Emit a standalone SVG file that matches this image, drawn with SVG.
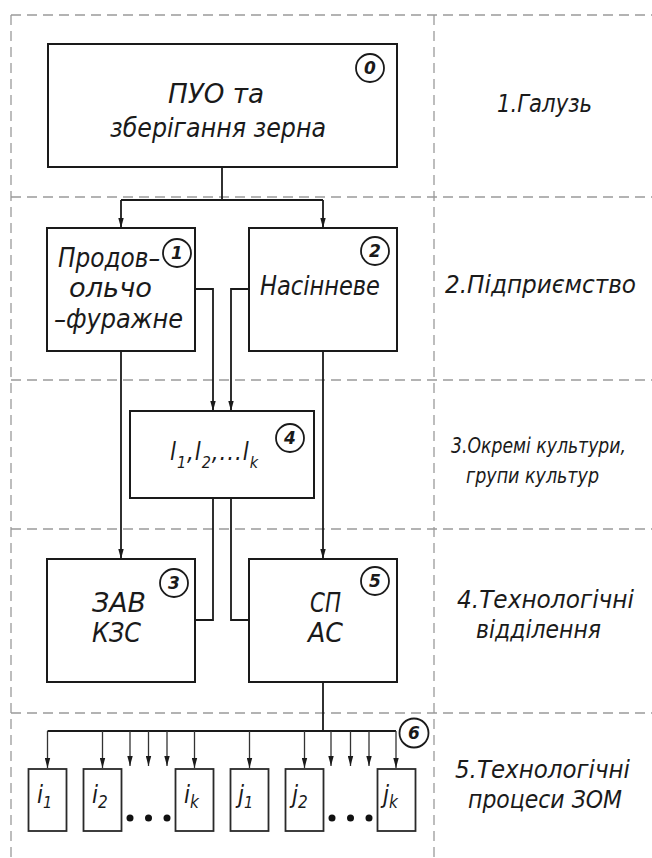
<svg xmlns="http://www.w3.org/2000/svg" width="652" height="858" viewBox="0 0 652 858">
<style>
.grid{stroke:#9a9a9a;stroke-width:1.3;stroke-dasharray:10 6;fill:none}
.box{fill:#fff;stroke:#1a1a1a;stroke-width:2}
.sbox{fill:#fff;stroke:#2a2a2a;stroke-width:1.8}
.ln{fill:none;stroke:#1a1a1a;stroke-width:1.8}
.thin{fill:none;stroke:#333;stroke-width:1.3}
.t{font-family:"DejaVu Sans Condensed","DejaVu Sans",sans-serif;font-style:italic;font-size:26px;fill:#1a1a1a}
.lv{font-family:"DejaVu Sans Condensed","DejaVu Sans",sans-serif;font-style:italic;font-size:25px;fill:#1a1a1a}
.lv2{font-family:"DejaVu Sans Condensed","DejaVu Sans",sans-serif;font-style:italic;font-size:22px;fill:#1a1a1a}
.num circle{fill:#fff;stroke:#1a1a1a;stroke-width:1.8}
.num text{font-family:"DejaVu Sans","Liberation Sans",sans-serif;font-weight:bold;font-style:italic;font-size:17px;fill:#1a1a1a;text-anchor:middle}
.s{font-family:"DejaVu Sans Condensed","DejaVu Sans",sans-serif;font-style:italic;fill:#1a1a1a}
</style>
<defs>
<marker id="ar" markerUnits="userSpaceOnUse" markerWidth="10" markerHeight="6" refX="10" refY="3" orient="auto">
<path d="M0,0.3 L10,3 L0,5.7 z" fill="#1a1a1a"/>
</marker>
</defs>

<g id="grid">
<line class="grid" x1="11" y1="15" x2="652" y2="15"/>
<line class="grid" x1="11" y1="197" x2="652" y2="197"/>
<line class="grid" x1="11" y1="380" x2="652" y2="380"/>
<line class="grid" x1="11" y1="529" x2="652" y2="529"/>
<line class="grid" x1="11" y1="713" x2="652" y2="713"/>
<line class="grid" x1="11" y1="15" x2="11" y2="858"/>
<line class="grid" x1="434" y1="15" x2="434" y2="858"/>
</g>

<g id="connectors">
<polyline class="ln" points="222,167 222,200"/>
<polyline class="ln" points="121,200 323,200"/>
<line class="ln" x1="121" y1="200" x2="121" y2="228" marker-end="url(#ar)"/>
<line class="ln" x1="323" y1="200" x2="323" y2="228" marker-end="url(#ar)"/>
<polyline class="ln" points="195,289 213,289 213,411" marker-end="url(#ar)"/>
<polyline class="ln" points="249,289 231,289 231,411" marker-end="url(#ar)"/>
<line class="ln" x1="121" y1="351" x2="121" y2="559" marker-end="url(#ar)"/>
<line class="ln" x1="323" y1="351" x2="323" y2="559" marker-end="url(#ar)"/>
<polyline class="ln" points="213,498 213,620 195,620"/>
<polyline class="ln" points="231,498 231,620 249,620"/>
<line class="ln" x1="323" y1="682" x2="323" y2="731"/>
<line class="ln" x1="47.5" y1="731" x2="396" y2="731"/>
<g class="thin">
<line x1="47.5" y1="731" x2="47.5" y2="768" marker-end="url(#ar)"/>
<line x1="102.5" y1="731" x2="102.5" y2="768" marker-end="url(#ar)"/>
<line x1="130" y1="731" x2="130" y2="766" marker-end="url(#ar)"/>
<line x1="148.5" y1="731" x2="148.5" y2="766" marker-end="url(#ar)"/>
<line x1="167" y1="731" x2="167" y2="766" marker-end="url(#ar)"/>
<line x1="194.5" y1="731" x2="194.5" y2="768" marker-end="url(#ar)"/>
<line x1="249.5" y1="731" x2="249.5" y2="768" marker-end="url(#ar)"/>
<line x1="304.5" y1="731" x2="304.5" y2="768" marker-end="url(#ar)"/>
<line x1="331" y1="731" x2="331" y2="766" marker-end="url(#ar)"/>
<line x1="350.5" y1="731" x2="350.5" y2="766" marker-end="url(#ar)"/>
<line x1="369" y1="731" x2="369" y2="766" marker-end="url(#ar)"/>
<line x1="396" y1="731" x2="396" y2="768" marker-end="url(#ar)"/>
</g>
</g>

<g id="node0">
<rect class="box" x="48" y="44" width="349" height="123"/>
<text class="t" x="168" y="103" textLength="96" lengthAdjust="spacingAndGlyphs">ПУО та</text>
<text class="t" x="110" y="137" textLength="216" lengthAdjust="spacingAndGlyphs">зберігання зерна</text>
<g class="num"><circle cx="370" cy="68" r="14"/><text x="370" y="74">0</text></g>
</g>

<g id="node1">
<rect class="box" x="47" y="228" width="148" height="123"/>
<text class="t" x="58" y="267" textLength="102" lengthAdjust="spacingAndGlyphs">Продов–</text>
<text class="t" x="69" y="297" textLength="83" lengthAdjust="spacingAndGlyphs">ольчо</text>
<text class="t" x="54" y="328" textLength="129" lengthAdjust="spacingAndGlyphs">–фуражне</text>
<g class="num"><circle cx="177" cy="253" r="14"/><text x="177" y="259">1</text></g>
</g>

<g id="node2">
<rect class="box" x="249" y="228" width="148" height="123"/>
<text class="t" x="260" y="295" textLength="120" lengthAdjust="spacingAndGlyphs">Насінневе</text>
<g class="num"><circle cx="375" cy="251" r="14"/><text x="375" y="257">2</text></g>
</g>

<g id="node4">
<rect class="box" x="130" y="411" width="184" height="87"/>
<text class="s" font-size="24" x="170" y="460" textLength="88" lengthAdjust="spacing">l<tspan dy="8" font-size="16">1</tspan><tspan dy="-8">,l</tspan><tspan dy="8" font-size="16">2</tspan><tspan dy="-8">,...l</tspan><tspan dy="8" font-size="16">k</tspan></text>
<g class="num"><circle cx="290" cy="438" r="14"/><text x="290" y="444">4</text></g>
</g>

<g id="node3">
<rect class="box" x="47" y="559" width="148" height="123"/>
<text class="t" x="92" y="612" textLength="54" lengthAdjust="spacingAndGlyphs">ЗАВ</text>
<text class="t" x="92" y="642" textLength="49" lengthAdjust="spacingAndGlyphs">КЗС</text>
<g class="num"><circle cx="174" cy="583" r="14"/><text x="174" y="589">3</text></g>
</g>

<g id="node5">
<rect class="box" x="249" y="559" width="148" height="123"/>
<text class="t" x="310" y="612" textLength="31" lengthAdjust="spacingAndGlyphs">СП</text>
<text class="t" x="308" y="642" textLength="35" lengthAdjust="spacingAndGlyphs">АС</text>
<g class="num"><circle cx="375" cy="581" r="14"/><text x="375" y="587">5</text></g>
</g>

<g id="node6">
<g class="num"><circle cx="414" cy="733" r="14.5"/><text x="414" y="739">6</text></g>
</g>

<g id="node-i1">
<rect class="sbox" x="28.5" y="769" width="38" height="62"/>
<text class="s" font-size="24" x="37" y="803">i<tspan dy="5" font-size="16">1</tspan></text>
</g>
<g id="node-i2">
<rect class="sbox" x="83.5" y="769" width="38" height="62"/>
<text class="s" font-size="24" x="92" y="803">i<tspan dy="5" font-size="17">2</tspan></text>
</g>
<g id="node-ik">
<rect class="sbox" x="175.5" y="769" width="38" height="62"/>
<text class="s" font-size="24" x="184" y="803">i<tspan dy="5" font-size="17">k</tspan></text>
</g>
<g id="node-j1">
<rect class="sbox" x="230.5" y="769" width="38" height="62"/>
<text class="s" font-size="24" x="238" y="803">j<tspan dy="5" font-size="16">1</tspan></text>
</g>
<g id="node-j2">
<rect class="sbox" x="285.5" y="769" width="38" height="62"/>
<text class="s" font-size="24" x="292" y="803">j<tspan dy="5" font-size="17">2</tspan></text>
</g>
<g id="node-jk">
<rect class="sbox" x="377.5" y="769" width="38" height="62"/>
<text class="s" font-size="24" x="383" y="803">j<tspan dy="5" font-size="17">k</tspan></text>
</g>

<g id="dots" fill="#111">
<circle cx="130" cy="818" r="3.5"/>
<circle cx="148.5" cy="818" r="3.5"/>
<circle cx="167" cy="818" r="3.5"/>
<circle cx="332" cy="818" r="3.5"/>
<circle cx="350.5" cy="818" r="3.5"/>
<circle cx="369" cy="818" r="3.5"/>
</g>

<g id="levels">
<text class="lv" x="497" y="112" textLength="95" lengthAdjust="spacingAndGlyphs">1.Галузь</text>
<text class="lv" x="445" y="293" textLength="191" lengthAdjust="spacingAndGlyphs">2.Підприємство</text>
<text class="lv2" x="451" y="453" textLength="175" lengthAdjust="spacingAndGlyphs">3.Окремі культури,</text>
<text class="lv2" x="466" y="483" textLength="133" lengthAdjust="spacingAndGlyphs">групи культур</text>
<text class="lv" x="457" y="608" textLength="177" lengthAdjust="spacingAndGlyphs">4.Технологічні</text>
<text class="lv" x="476" y="638" textLength="125" lengthAdjust="spacingAndGlyphs">відділення</text>
<text class="lv" x="455" y="778" textLength="175" lengthAdjust="spacingAndGlyphs">5.Технологічні</text>
<text class="lv" x="468" y="808" textLength="154" lengthAdjust="spacingAndGlyphs">процеси ЗОМ</text>
</g>
</svg>
